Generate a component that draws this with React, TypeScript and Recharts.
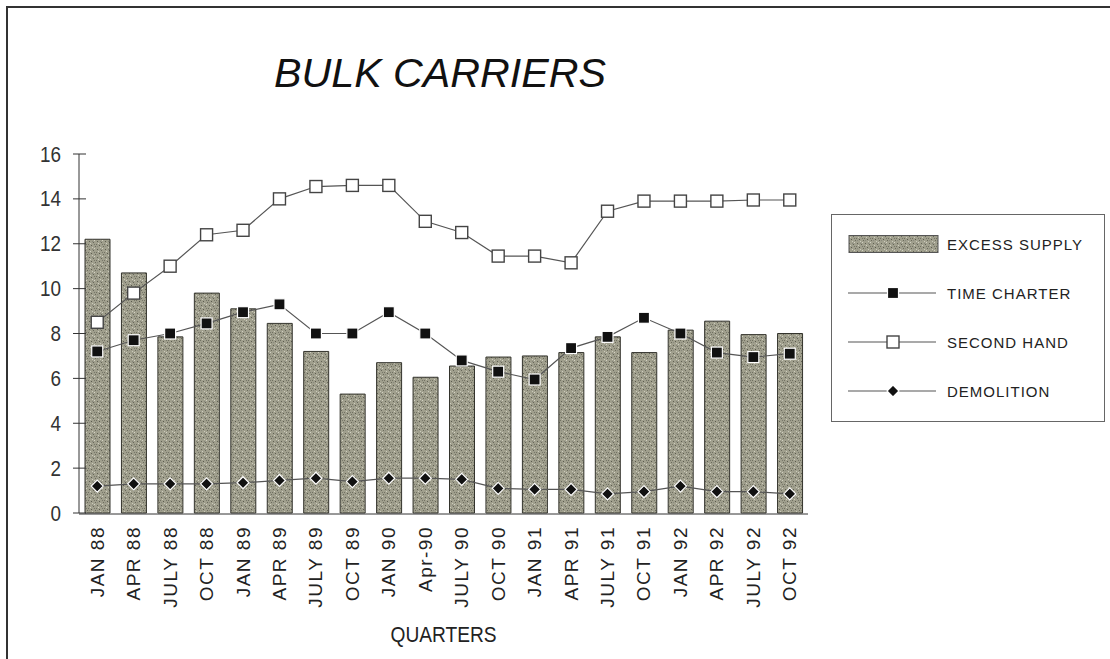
import { ComposedChart, Bar, Line, XAxis, YAxis, Legend, Label } from 'recharts';

const quarters = [
  'JAN 88', 'APR 88', 'JULY 88', 'OCT 88', 'JAN 89', 'APR 89', 'JULY 89', 'OCT 89', 'JAN 90', 'Apr-90',
  'JULY 90', 'OCT 90', 'JAN 91', 'APR 91', 'JULY 91', 'OCT 91', 'JAN 92', 'APR 92', 'JULY 92', 'OCT 92',
];
const excessSupply = [12.2, 10.7, 7.85, 9.8, 9.1, 8.45, 7.2, 5.3, 6.7, 6.05, 6.55, 6.95, 7.0, 7.15, 7.85, 7.15, 8.15, 8.55, 7.95, 8.0];
const timeCharter = [7.2, 7.7, 8.0, 8.45, 8.95, 9.3, 8.0, 8.0, 8.95, 8.0, 6.8, 6.3, 5.95, 7.35, 7.85, 8.7, 8.0, 7.15, 6.95, 7.1];
const secondHand = [8.5, 9.8, 11.0, 12.4, 12.6, 14.0, 14.55, 14.6, 14.6, 13.0, 12.5, 11.45, 11.45, 11.15, 13.45, 13.9, 13.9, 13.9, 13.95, 13.95];
const demolition = [1.2, 1.3, 1.3, 1.3, 1.35, 1.45, 1.55, 1.4, 1.55, 1.55, 1.5, 1.1, 1.05, 1.05, 0.85, 0.95, 1.2, 0.95, 0.95, 0.85];
const yTicks = [0, 2, 4, 6, 8, 10, 12, 14, 16];
const edgeTicks = quarters.map((_, i) => i).concat(quarters.length);

const data = quarters.map((q, i) => ({
  quarter: q,
  excess: excessSupply[i],
  charter: timeCharter[i],
  second: secondHand[i],
  demolition: demolition[i],
}));

const SANS = '"Liberation Sans", Arial, sans-serif';

// markers
const BlackSquare = ({ cx, cy }: any) =>
  cx == null ? null : <rect x={cx - 5.5} y={cy - 5.5} width={11} height={11} fill="#111" stroke="#fff" strokeWidth={1.2} />;
const WhiteSquare = ({ cx, cy }: any) =>
  cx == null ? null : <rect x={cx - 6} y={cy - 6} width={12} height={12} fill="#fff" stroke="#444" strokeWidth={1.4} />;
const Diamond = ({ cx, cy }: any) =>
  cx == null ? null : (
    <path d={`M${cx},${cy - 6}L${cx + 6},${cy}L${cx},${cy + 6}L${cx - 6},${cy}Z`} fill="#111" stroke="#fff" strokeWidth={1.2} />
  );

const QuarterTick = ({ x, y, payload }: any) => (
  <text
    x={x}
    y={y}
    transform={`rotate(-90 ${x} ${y})`}
    textAnchor="end"
    dominantBaseline="central"
    fontFamily={SANS}
    fontSize={19}
    letterSpacing={1.5}
    fill="#222"
  >
    {payload.value}
  </text>
);

const ValueTick = ({ x, y, payload }: any) => (
  <g>
    <line x1={x + 12} x2={x + 25} y1={y} y2={y} stroke="#333" />
    <text
      x={x}
      y={y}
      textAnchor="end"
      dominantBaseline="central"
      fontFamily={SANS}
      fontSize={22}
      fill="#333"
      textLength={String(payload.value).length * 10.5}
      lengthAdjust="spacingAndGlyphs"
    >
      {payload.value}
    </text>
  </g>
);

const legendRows = [
  { name: 'EXCESS SUPPLY', kind: 'bar' },
  { name: 'TIME CHARTER', kind: 'charter' },
  { name: 'SECOND HAND', kind: 'second' },
  { name: 'DEMOLITION', kind: 'demolition' },
];

const LegendBox = () => (
  <div style={{ width: 274, height: 208, border: '1px solid #666', boxSizing: 'border-box', background: '#fff', position: 'relative' }}>
    {legendRows.map((row, i) => (
      <div key={row.name} style={{ position: 'absolute', left: 16, top: 29 + i * 49 - 10, height: 20, display: 'flex', alignItems: 'center' }}>
        <svg width={92} height={20}>
          {row.kind === 'bar' ? (
            <rect x={1} y={1.5} width={89} height={17} fill="url(#grain)" stroke="#555" />
          ) : (
            <g>
              <line x1={0} x2={88} y1={10} y2={10} stroke="#555" strokeWidth={1.2} />
              {row.kind === 'charter' && <BlackSquare cx={45} cy={10} />}
              {row.kind === 'second' && <WhiteSquare cx={45} cy={10} />}
              {row.kind === 'demolition' && <Diamond cx={45} cy={10} />}
            </g>
          )}
        </svg>
        <span style={{ marginLeft: 7, fontFamily: SANS, fontSize: 15, letterSpacing: 1, color: '#222' }}>{row.name}</span>
      </div>
    ))}
  </div>
);

export default function App() {
  return (
    <div style={{ position: 'absolute', left: 0, top: 0, width: 1110, height: 659, background: '#fff', overflow: 'hidden' }}>
      <div style={{ position: 'absolute', left: 6, top: 6, width: 1110, height: 659, borderTop: '2px solid #333', borderLeft: '2px solid #333' }} />
      <svg style={{ position: 'absolute', left: 0, top: 0 }} width={700} height={120}>
        <text
          x={274}
          y={73}
          dominantBaseline="central"
          fontFamily={SANS}
          fontStyle="italic"
          fontSize={40}
          fill="#111"
          textLength={332}
          lengthAdjust="spacingAndGlyphs"
        >
          BULK CARRIERS
        </text>
      </svg>
      <ComposedChart width={1110} height={659} data={data} margin={{ top: 154, right: 302, bottom: 144, left: 19 }}>
        <defs>
          <pattern id="grain" width={8} height={8} patternUnits="userSpaceOnUse">
            <rect width={8} height={8} fill="#a09f8d" />
            <rect x={1} y={1} width={1} height={1} fill="#5f5f52" />
            <rect x={5} y={2} width={1} height={1} fill="#66665a" />
            <rect x={3} y={5} width={1} height={1} fill="#5a5a4e" />
            <rect x={7} y={6} width={1} height={1} fill="#6a6a5c" />
            <rect x={0} y={4} width={1} height={1} fill="#707062" />
            <rect x={6} y={4} width={1} height={1} fill="#77776a" />
            <rect x={2} y={3} width={1} height={1} fill="#cfcec0" />
            <rect x={6} y={0} width={1} height={1} fill="#d2d1c4" />
            <rect x={4} y={7} width={1} height={1} fill="#cbcabc" />
            <rect x={4} y={1} width={1} height={1} fill="#85857a" />
            <rect x={1} y={6} width={1} height={1} fill="#8a8a7e" />
          </pattern>
        </defs>
        <XAxis
          xAxisId="edges"
          type="number"
          domain={[0, quarters.length]}
          ticks={edgeTicks}
          interval={0}
          height={1}
          tick={false}
          tickSize={6}
          stroke="#333"
          allowDataOverflow
        />
        <XAxis
          xAxisId="cat"
          dataKey="quarter"
          height={1}
          interval={0}
          axisLine={false}
          tickLine={false}
          tickSize={6}
          tickMargin={7}
          tick={<QuarterTick />}
        >
          <Label
            content={({ viewBox }: any) => (
              <text
                x={viewBox.x + viewBox.width / 2}
                y={viewBox.y + 121}
                textAnchor="middle"
                dominantBaseline="central"
                fontFamily={SANS}
                fontSize={22}
                fill="#222"
                textLength={106}
                lengthAdjust="spacingAndGlyphs"
              >
                QUARTERS
              </text>
            )}
          />
        </XAxis>
        <YAxis
          domain={[0, 16]}
          ticks={yTicks}
          width={60}
          tickLine={false}
          tickSize={6}
          tickMargin={12}
          stroke="#333"
          tick={<ValueTick />}
        />
        <Legend
          layout="vertical"
          align="center"
          verticalAlign="middle"
          wrapperStyle={{ left: 831, top: 214, width: 274, height: 208 }}
          content={() => <LegendBox />}
        />
        <Bar xAxisId="cat" dataKey="excess" name="EXCESS SUPPLY" barSize={25} fill="url(#grain)" stroke="#33332c" strokeWidth={1} isAnimationActive={false} />
        <Line xAxisId="cat" dataKey="charter" name="TIME CHARTER" stroke="#555" strokeWidth={1.2} dot={<BlackSquare />} activeDot={false} isAnimationActive={false} />
        <Line xAxisId="cat" dataKey="second" name="SECOND HAND" stroke="#555" strokeWidth={1.2} dot={<WhiteSquare />} activeDot={false} isAnimationActive={false} />
        <Line xAxisId="cat" dataKey="demolition" name="DEMOLITION" stroke="#555" strokeWidth={1.2} dot={<Diamond />} activeDot={false} isAnimationActive={false} />
      </ComposedChart>
    </div>
  );
}
